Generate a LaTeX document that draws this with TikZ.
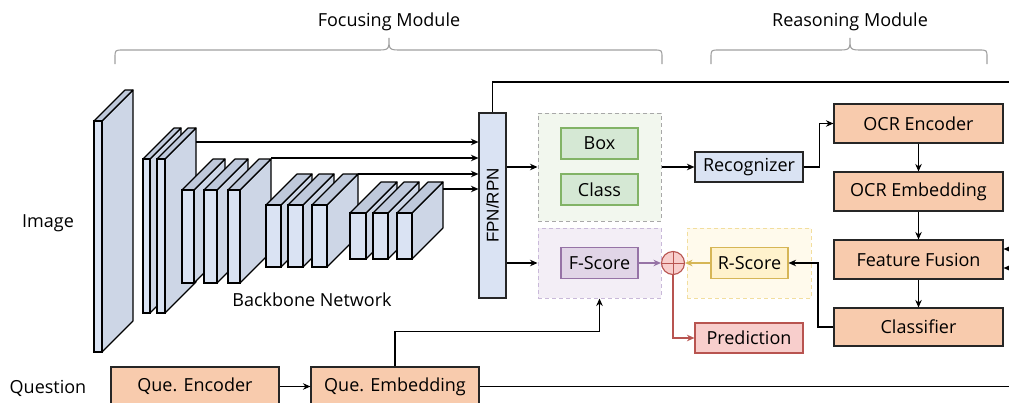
\documentclass[tikz,border=0pt]{standalone}
\usepackage{fontspec}
\newfontfamily\labfont{Open Sans}
\newfontfamily\hvfont{Liberation Sans}
\usetikzlibrary{arrows.meta,calc}
\definecolor{slabfront}{HTML}{DAE3F3}
\definecolor{slabside}{HTML}{CDD6E6}
\definecolor{slabtop}{HTML}{BFC9DB}
\definecolor{bluefill}{HTML}{DAE3F3}
\definecolor{orangefill}{HTML}{F8CBAD}
\definecolor{greenfill}{HTML}{D5E8D4}
\definecolor{greenline}{HTML}{82B366}
\definecolor{greencont}{HTML}{F2F7EE}
\definecolor{purplefill}{HTML}{E1D5E7}
\definecolor{purpleline}{HTML}{9673A6}
\definecolor{purplecont}{HTML}{F3EEF6}
\definecolor{purpledash}{HTML}{C9B9D9}
\definecolor{yellowfill}{HTML}{FFF2CC}
\definecolor{yellowline}{HTML}{D6B656}
\definecolor{yellowcont}{HTML}{FFFAEC}
\definecolor{yellowdash}{HTML}{F2DE9E}
\definecolor{redfill}{HTML}{F8CECC}
\definecolor{redline}{HTML}{B85450}
\definecolor{bracegray}{HTML}{A0A0A0}
\definecolor{dashgray}{HTML}{A8A8A8}
\newcommand{\bbslab}[4]{%
  \filldraw[draw=black,line width=1.1pt,fill=slabside,line join=round]
    (#2,#3) -- ({#2+31},{#3-31}) -- ({#2+31},{#4-31}) -- (#2,#4) -- cycle;
  \filldraw[draw=black,line width=1.1pt,fill=slabtop,line join=round]
    (#1,#3) -- ({#1+31},{#3-31}) -- ({#2+31},{#3-31}) -- (#2,#3) -- cycle;
  \filldraw[draw=black,line width=1.1pt,fill=slabfront]
    (#1,#3) rectangle (#2,#4);
}
\tikzset{
  lbl/.style={font=\labfont\fontsize{18}{21}\selectfont, inner sep=0pt},
  blk/.style={draw=black!85, line width=1.1pt, rectangle, inner sep=0pt,
    font=\labfont\fontsize{18}{21}\selectfont},
  orangebox/.style={blk, fill=orangefill},
  bluebox/.style={blk, fill=bluefill},
  greenbox/.style={blk, draw=greenline, fill=greenfill, minimum width=77pt, minimum height=31pt},
  purplebox/.style={blk, draw=purpleline, fill=purplefill, minimum width=77pt, minimum height=31pt},
  yellowbox/.style={blk, draw=yellowline, fill=yellowfill, minimum width=77pt, minimum height=31pt},
  redbox/.style={blk, draw=redline, fill=redfill},
  contbox/.style={rectangle, line width=1pt, dash pattern=on 4pt off 3pt, inner sep=0pt},
  arr/.style={line width=1.1pt, -{Stealth[length=7.5pt,width=6.5pt]}},
  plainline/.style={line width=1.1pt},
  bracestyle/.style={draw=bracegray, line width=1.1pt}
}
\begin{document}
\begin{tikzpicture}[x=1pt,y=-1pt]
\useasboundingbox (0,0) rectangle (1009,402);

% braces
\draw[bracestyle] (115,64) -- (115,58) .. controls (115,50) .. (123,50) -- (376,50)
  .. controls (389,50) .. (389,38) .. controls (389,50) .. (402,50) -- (654,50)
  .. controls (662,50) .. (662,58) -- (662,64);
\draw[bracestyle] (711,64) -- (711,58) .. controls (711,50) .. (719,50) -- (837,50)
  .. controls (850,50) .. (850,38) .. controls (850,50) .. (863,50) -- (979,50)
  .. controls (987,50) .. (987,58) -- (987,64);
\node[lbl] (focus) at (389,22) {Focusing Module};
\node[lbl] (reason) at (850,22) {Reasoning Module};

% side labels
\node[lbl] (image) at (48,223) {Image};
\node[lbl] (question) at (48,388) {Question};

% backbone
\bbslab{94}{102}{121}{352}
\bbslab{143}{150}{159}{313}
\bbslab{157}{165}{159}{313}
\bbslab{182}{194}{190}{283}
\bbslab{204}{217}{190}{283}
\bbslab{228}{240}{190}{283}
\bbslab{266}{281}{205}{267}
\bbslab{288}{303}{205}{267}
\bbslab{312}{327}{205}{267}
\bbslab{350}{366}{213}{259}
\bbslab{373}{388}{213}{259}
\bbslab{397}{412}{213}{259}
\node[lbl] (backbone) at (312,300) {Backbone Network};

% FPN
\node[bluebox, minimum width=27pt, minimum height=185pt] (fpn) at (492.5,205.5) {};
\node[rotate=90, font=\hvfont\fontsize{17}{19}\selectfont, inner sep=0pt] (fpntext) at (fpn.center) {FPN/RPN};

\coordinate (b1) at (196,142);
\coordinate (b2) at (271,158);
\coordinate (b3) at (358,174);
\coordinate (b4) at (443,189);
\foreach \c in {b1,b2,b3,b4} \draw[arr] (\c) -- (\c -| fpn.west);

% containers
\node[contbox, draw=dashgray, fill=greencont, minimum width=123pt, minimum height=108pt] (gcont) at (599.5,167) {};
\node[greenbox] (box) at (599.5,143.5) {Box};
\node[greenbox] (cls) at (599.5,189.5) {Class};

\node[contbox, draw=purpledash, fill=purplecont, minimum width=123pt, minimum height=70pt] (pcont) at (599.5,263) {};
\node[purplebox] (fscore) at (599.5,263) {F-Score};

\node[contbox, draw=yellowdash, fill=yellowcont, minimum width=124pt, minimum height=70pt] (ycont) at (749,263) {};
\node[yellowbox] (rscore) at (749.5,263) {R-Score};

\node[circle, draw=redline, fill=redfill, line width=1.1pt, minimum size=23pt, inner sep=0pt] (circ) at (673,263) {};
\draw[draw=redline, line width=1pt] (circ.north) -- (circ.south) (circ.west) -- (circ.east);

\node[redbox, minimum width=108pt, minimum height=30pt] (pred) at (749,338) {Prediction};
\node[bluebox, minimum width=108pt, minimum height=30pt] (recog) at (749,167) {Recognizer};

% OCR side
\node[orangebox, minimum width=169pt, minimum height=39pt] (ocrenc) at (918.5,123.5) {OCR Encoder};
\node[orangebox, minimum width=169pt, minimum height=39pt] (ocremb) at (918.5,191.5) {OCR Embedding};
\node[orangebox, minimum width=169pt, minimum height=39pt] (fusion) at (918.5,259.5) {Feature Fusion};
\node[orangebox, minimum width=169pt, minimum height=38pt] (classif) at (918.5,327) {Classifier};

% question side
\node[orangebox, minimum width=168pt, minimum height=39pt] (queenc) at (195,386.5) {Que. Encoder};
\node[orangebox, minimum width=168pt, minimum height=39pt] (queemb) at (395,386.5) {Que. Embedding};

% connectors
\coordinate (topend) at (1012,82);
\draw[plainline] (fpn.north) |- (topend);
\draw[arr] (fpn.east |- gcont.west) -- (gcont.west);
\draw[arr] (fpn.east |- pcont.west) -- (pcont.west);
\draw[arr] (gcont.east) -- (recog.west);
\draw[arr] (recog.east) -- ++(15.5,0) |- (ocrenc.west);
\draw[arr] (ocrenc.south) -- (ocremb.north);
\draw[arr] (ocremb.south) -- (fusion.north);
\draw[arr] (fusion.south) -- (classif.north);
\draw[arr] (classif.west) -- ++(-15.5,0) |- (rscore.east);
\draw[arr, draw=purpleline] (fscore.east) -- (circ.west);
\draw[arr, draw=yellowline] (rscore.west) -- (circ.east);
\draw[arr, draw=redline] (circ.south) |- (pred.west);
\draw[arr] (queenc.east) -- (queemb.west);
\draw[arr] (queemb.north) -- ++(0,-35) -| (pcont.south);
\coordinate (botend) at (1012,386.5);
\draw[plainline] (queemb.east) -- (botend);
\coordinate (ffa) at (1012,249);
\coordinate (ffb) at (1012,268);
\draw[arr] (ffa) -- (ffa -| fusion.east);
\draw[arr] (ffb) -- (ffb -| fusion.east);
\end{tikzpicture}
\end{document}
